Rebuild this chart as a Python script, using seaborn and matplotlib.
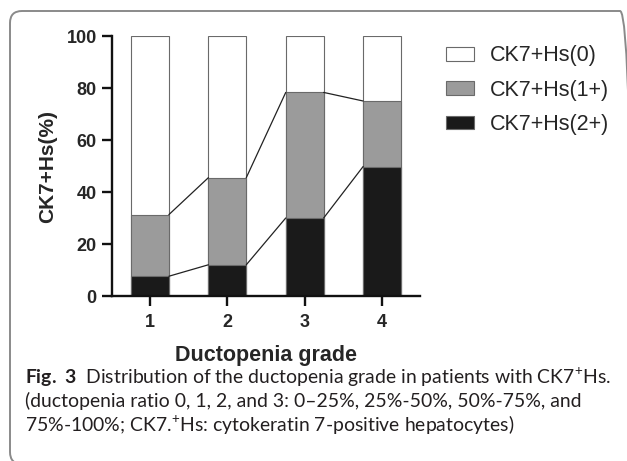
import seaborn as sns
import matplotlib.pyplot as plt
import matplotlib.patches as mpatches
import matplotlib.transforms as mtransforms
import pandas as pd

grades = ["1", "2", "3", "4"]
hs_2plus = [7.6, 12.0, 30.0, 49.8]
hs_1plus = [23.7, 33.5, 48.3, 25.2]
hs_0 = [100 - a - b for a, b in zip(hs_2plus, hs_1plus)]
labels = ["CK7+Hs(0)", "CK7+Hs(1+)", "CK7+Hs(2+)"]
colors = ["#ffffff", "#9b9b9b", "#1a1a1a"]

df = pd.DataFrame({"grade": grades, "h2": hs_2plus, "h1": hs_1plus, "h0": hs_0})
df["top1"] = df["h2"] + df["h1"]
df["top0"] = df["top1"] + df["h0"]

sns.set_style("ticks")
plt.rcParams["font.family"] = ["Liberation Sans", "DejaVu Sans"]
plt.rcParams["mathtext.fontset"] = "custom"
plt.rcParams["mathtext.rm"] = "Lato"
plt.rcParams["mathtext.bf"] = "Lato:bold"

fig = plt.figure(figsize=(6.27, 4.61), dpi=100)
ax = fig.add_axes([112 / 627, 1 - 296 / 461, 308 / 627, 260 / 461])

w = 0.49
for col, c in zip(["top0", "top1", "h2"], colors):
    sns.barplot(data=df, x="grade", y=col, color=c, width=w, ax=ax,
                edgecolor="#6a6a6a", linewidth=0.8, saturation=1, zorder=2)

# connecting lines between stacked segments
for col in ["h2", "top1"]:
    vals = df[col].tolist()
    for i in range(len(vals) - 1):
        ax.plot([i + w / 2, i + 1 - w / 2], [vals[i], vals[i + 1]],
                color="#222222", lw=0.9, zorder=3)

ax.set_xlim(-0.49, 3.49)
ax.set_ylim(0, 100)
ax.set_yticks([0, 20, 40, 60, 80, 100])
sns.despine(ax=ax)
for s in ["left", "bottom"]:
    ax.spines[s].set_linewidth(1.7)
    ax.spines[s].set_color("#111111")
ax.tick_params(axis="both", width=1.7, length=7, color="#111111",
               labelsize=13, pad=4)
ax.tick_params(axis="x", pad=6)
for t in ax.get_xticklabels() + ax.get_yticklabels():
    t.set_fontweight("bold")
ax.set_xlabel("Ductopenia grade", fontsize=15.5, fontweight="bold", labelpad=10)
ax.set_ylabel("CK7+Hs(%)", fontsize=15, fontweight="bold", labelpad=7)

handles = [mpatches.Patch(facecolor=c, edgecolor="#6a6a6a", linewidth=0.8)
           for c in colors]
fig.legend(handles, labels, loc="upper left", bbox_to_anchor=(427 / 627, 1 - 26 / 461),
           frameon=False, fontsize=15.5, handlelength=1.3, handleheight=0.6,
           labelspacing=0.62, handletextpad=0.7)

# caption, sized to fill the same width as the original
cap = [r"$\mathbf{Fig.}$ $\mathbf{3}$  Distribution of the ductopenia grade in patients with CK7$^{+}$Hs.",
       "(ductopenia ratio 0, 1, 2, and 3: 0\u201325%, 25%-50%, 50%-75%, and",
       r"75%-100%; CK7.$^{+}$Hs: cytokeratin 7-positive hepatocytes)"]
renderer = fig.canvas.get_renderer()
probe = fig.text(0, 0, cap[0], fontsize=12, family="Lato")
size = 12 * 585 / probe.get_window_extent(renderer).width
probe.remove()
for k, line in enumerate(cap):
    fig.text(25 / 627, 1 - (377 + 24 * k) / 461, line, fontsize=size,
             family="Lato", va="center", ha="left", color="#231f20")

# rounded frame
frame = mpatches.FancyBboxPatch((10, -3), 622, 453, boxstyle="round,pad=0,rounding_size=12",
                                transform=mtransforms.IdentityTransform(),
                                facecolor="none", edgecolor="#8a8a8a", lw=1.4)
fig.patches.append(frame)

fig.savefig("out.png", dpi=100)
